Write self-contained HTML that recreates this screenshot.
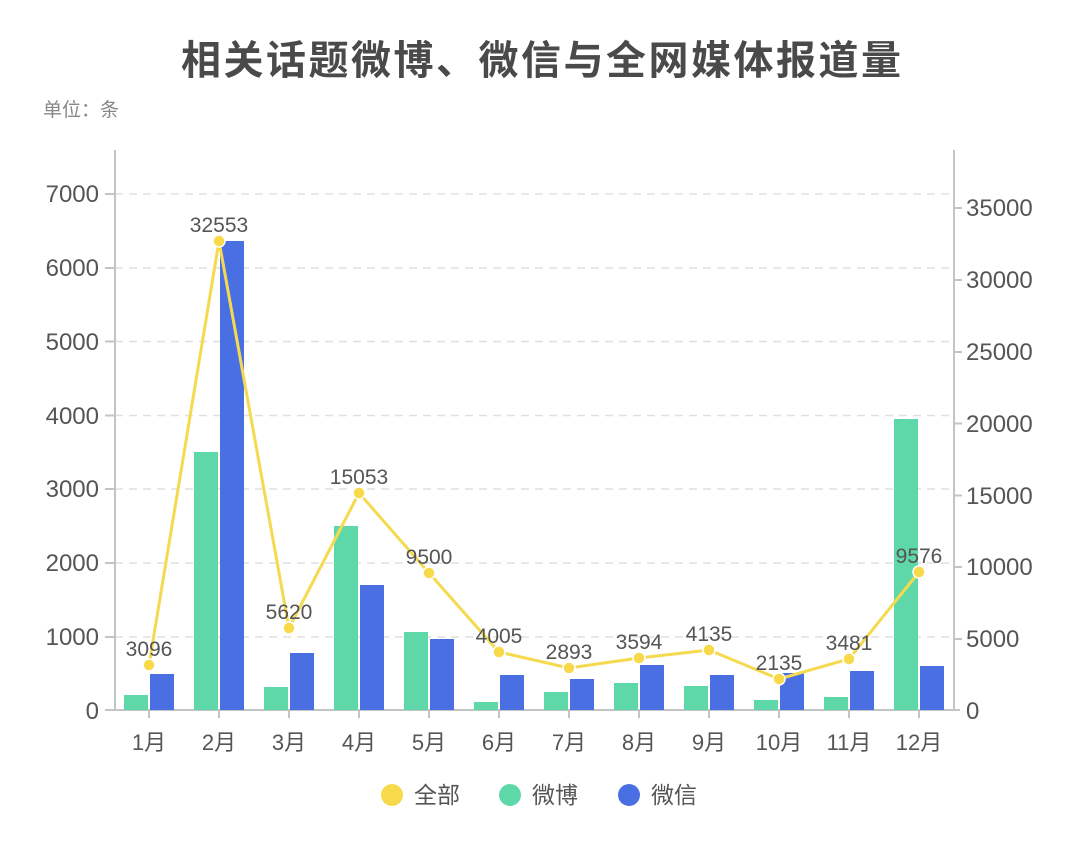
<!DOCTYPE html>
<html><head><meta charset="utf-8"><style>
body{margin:0;background:#fff;}
text{font-family:"Liberation Sans","Noto Sans CJK SC",sans-serif;}
</style></head><body>
<svg width="1082" height="848" xmlns="http://www.w3.org/2000/svg">
<text x="541" y="74" text-anchor="middle" font-size="40" font-weight="bold" fill="#4a4a4a" textLength="720" lengthAdjust="spacing">相关话题微博、微信与全网媒体报道量</text>
<text x="43" y="116" font-size="19" fill="#888">单位：条</text>
<g stroke="#e0e0e0" stroke-dasharray="8,6" stroke-width="1.5">
<line x1="115" x2="954" y1="637" y2="637"/><line x1="115" x2="954" y1="563" y2="563"/><line x1="115" x2="954" y1="489" y2="489"/><line x1="115" x2="954" y1="415.5" y2="415.5"/><line x1="115" x2="954" y1="341.5" y2="341.5"/><line x1="115" x2="954" y1="268" y2="268"/><line x1="115" x2="954" y1="194" y2="194"/>
</g>
<g stroke="#c4c4c4" stroke-width="2">
<line x1="115" y1="150" x2="115" y2="710"/><line x1="954" y1="150" x2="954" y2="710"/><line x1="105" y1="710" x2="960" y2="710"/>
<line x1="105" x2="115" y1="637" y2="637"/><line x1="105" x2="115" y1="563" y2="563"/><line x1="105" x2="115" y1="489" y2="489"/><line x1="105" x2="115" y1="415.5" y2="415.5"/><line x1="105" x2="115" y1="341.5" y2="341.5"/><line x1="105" x2="115" y1="268" y2="268"/><line x1="105" x2="115" y1="194" y2="194"/>
<line x1="954" x2="962" y1="639" y2="639"/><line x1="954" x2="962" y1="567" y2="567"/><line x1="954" x2="962" y1="495.5" y2="495.5"/><line x1="954" x2="962" y1="423.5" y2="423.5"/><line x1="954" x2="962" y1="352" y2="352"/><line x1="954" x2="962" y1="280" y2="280"/><line x1="954" x2="962" y1="208" y2="208"/>
<line x1="149" x2="149" y1="710" y2="718"/><line x1="219" x2="219" y1="710" y2="718"/><line x1="289" x2="289" y1="710" y2="718"/><line x1="359" x2="359" y1="710" y2="718"/><line x1="429" x2="429" y1="710" y2="718"/><line x1="499" x2="499" y1="710" y2="718"/><line x1="569" x2="569" y1="710" y2="718"/><line x1="639" x2="639" y1="710" y2="718"/><line x1="709" x2="709" y1="710" y2="718"/><line x1="779" x2="779" y1="710" y2="718"/><line x1="849" x2="849" y1="710" y2="718"/><line x1="919" x2="919" y1="710" y2="718"/>
</g>
<g font-size="24" fill="#555" text-anchor="end">
<text x="99" y="719">0</text><text x="99" y="645">1000</text><text x="99" y="571">2000</text><text x="99" y="497">3000</text><text x="99" y="424">4000</text><text x="99" y="350">5000</text><text x="99" y="276">6000</text><text x="99" y="202">7000</text>
</g>
<g font-size="24" fill="#555">
<text x="966" y="719">0</text><text x="966" y="647">5000</text><text x="966" y="575">10000</text><text x="966" y="504">15000</text><text x="966" y="432">20000</text><text x="966" y="360">25000</text><text x="966" y="288">30000</text><text x="966" y="216">35000</text>
</g>
<g font-size="22" fill="#555" text-anchor="middle">
<text x="149" y="750">1月</text><text x="219" y="750">2月</text><text x="289" y="750">3月</text><text x="359" y="750">4月</text><text x="429" y="750">5月</text><text x="499" y="750">6月</text><text x="569" y="750">7月</text><text x="639" y="750">8月</text><text x="709" y="750">9月</text><text x="779" y="750">10月</text><text x="849" y="750">11月</text><text x="919" y="750">12月</text>
</g>
<g fill="#5fd8a9">
<rect x="124" y="695" width="24" height="15"/><rect x="194" y="452" width="24" height="258"/><rect x="264" y="687" width="24" height="23"/><rect x="334" y="526" width="24" height="184"/><rect x="404" y="632" width="24" height="78"/><rect x="474" y="702" width="24" height="8"/><rect x="544" y="692" width="24" height="18"/><rect x="614" y="683" width="24" height="27"/><rect x="684" y="686" width="24" height="24"/><rect x="754" y="700" width="24" height="10"/><rect x="824" y="697" width="24" height="13"/><rect x="894" y="419" width="24" height="291"/>
</g>
<g fill="#4a6fe3">
<rect x="150" y="674" width="24" height="36"/><rect x="220" y="241" width="24" height="469"/><rect x="290" y="653" width="24" height="57"/><rect x="360" y="585" width="24" height="125"/><rect x="430" y="639" width="24" height="71"/><rect x="500" y="675" width="24" height="35"/><rect x="570" y="679" width="24" height="31"/><rect x="640" y="665" width="24" height="45"/><rect x="710" y="675" width="24" height="35"/><rect x="780" y="673" width="24" height="37"/><rect x="850" y="671" width="24" height="39"/><rect x="920" y="666" width="24" height="44"/>
</g>
<polyline fill="none" stroke="#f5da4f" stroke-width="3" points="149,665 219,241 289,628 359,493 429,573 499,652 569,668 639,658 709,650 779,679 849,659 919,572"/>
<g fill="#f8d94a" stroke="#fff" stroke-width="1.5">
<circle cx="149" cy="665" r="6"/><circle cx="219" cy="241" r="6"/><circle cx="289" cy="628" r="6"/><circle cx="359" cy="493" r="6"/><circle cx="429" cy="573" r="6"/><circle cx="499" cy="652" r="6"/><circle cx="569" cy="668" r="6"/><circle cx="639" cy="658" r="6"/><circle cx="709" cy="650" r="6"/><circle cx="779" cy="679" r="6"/><circle cx="849" cy="659" r="6"/><circle cx="919" cy="572" r="6"/>
</g>
<g font-size="21" fill="#555" text-anchor="middle">
<text x="149" y="656">3096</text><text x="219" y="232">32553</text><text x="289" y="619">5620</text><text x="359" y="484">15053</text><text x="429" y="564">9500</text><text x="499" y="643">4005</text><text x="569" y="659">2893</text><text x="639" y="649">3594</text><text x="709" y="641">4135</text><text x="779" y="670">2135</text><text x="849" y="650">3481</text><text x="919" y="563">9576</text>
</g>
<circle cx="392" cy="795" r="11" fill="#f8d94a"/><text x="414" y="803" font-size="23" fill="#555">全部</text>
<circle cx="510" cy="795" r="11" fill="#5fd8a9"/><text x="532" y="803" font-size="23" fill="#555">微博</text>
<circle cx="629" cy="795" r="11" fill="#4a6fe3"/><text x="651" y="803" font-size="23" fill="#555">微信</text>
</svg>
</body></html>
